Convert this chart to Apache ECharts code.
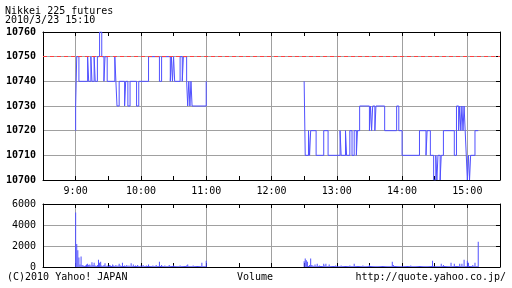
<!DOCTYPE html>
<html><head><meta charset="utf-8">
<script src="https://cdn.jsdelivr.net/npm/echarts@6/dist/echarts.min.js"></script>
<style>html,body{margin:0;padding:0;background:#fff}#c{width:512px;height:288px}</style>
</head><body><div id="c"></div>
<script>
// ---- data ----
const titleLines = ['Nikkei 225 futures', '2010/3/23 15:10'];
const footerLeft = '(C)2010 Yahoo! JAPAN';
const footerMid = 'Volume';
const footerRight = 'http://quote.yahoo.co.jp/';
const prevClose = 10750;
const priceTicks = [10700, 10710, 10720, 10730, 10740, 10750, 10760];
const volumeTicks = [0, 2000, 4000, 6000];

const amTimes = ['9:00','9:00','9:01','9:03','9:11','9:12','9:14','9:15','9:17','9:18','9:20','9:22','9:24','9:26','9:27','9:29','9:36','9:37','9:38','9:40','9:45','9:46','9:48','9:50','9:56','9:58','10:07','10:17','10:19','10:27','10:28','10:29','10:30','10:31','10:36','10:38','10:39','10:42','10:43','10:44','10:45','10:46','10:47','11:00'];
const amPrices = [10720,10730,10750,10740,10750,10740,10750,10740,10750,10740,10750,10760,10750,10740,10750,10740,10750,10740,10730,10740,10730,10740,10730,10740,10730,10740,10750,10740,10750,10740,10750,10740,10750,10740,10750,10740,10750,10740,10730,10740,10730,10740,10730,10740];

const pmTimes = ['12:30','12:31','12:34','12:35','12:36','12:41','12:48','12:52','13:03','13:04','13:08','13:09','13:12','13:14','13:16','13:18','13:19','13:21','13:30','13:31','13:32','13:33','13:35','13:36','13:44','13:55','13:57','14:00','14:16','14:22','14:23','14:26','14:29','14:31','14:32','14:33','14:35','14:36','14:38','14:48','14:50','14:52','14:53','14:54','14:55','14:56','14:57','14:58','14:59','15:00','15:01','15:02','15:03','15:07','15:10'];
const pmPrices = [10740,10710,10720,10710,10720,10710,10720,10710,10720,10710,10720,10710,10720,10710,10720,10710,10720,10730,10720,10730,10720,10730,10720,10730,10720,10730,10720,10710,10720,10710,10720,10710,10700,10710,10700,10710,10700,10710,10720,10710,10730,10720,10730,10720,10730,10720,10730,10720,10710,10700,10710,10700,10710,10720,10720];

// per-minute volume, morning 9:00-11:00
const amVolStart = '9:00';
const amVolumes = [
5200,2200,1600,900,250,1000,200,150,100,150,
250,300,200,250,150,450,200,400,150,100,
200,700,400,500,150,100,200,350,100,150,
100,200,150,100,250,150,100,200,100,150,
300,150,100,400,100,150,100,200,100,150,
100,350,100,250,100,150,100,200,100,100,
150,100,200,100,100,150,100,250,100,100,
100,150,100,100,200,100,100,500,100,200,
100,100,150,100,100,100,200,100,100,100,
150,100,100,100,100,100,150,100,100,100,
100,100,150,250,100,100,100,100,150,100,
100,100,100,100,100,100,400,100,100,100,
600];
// per-minute volume, afternoon 12:30-15:10
const pmVolStart = '12:30';
const pmVolumes = [
550,800,650,500,100,200,800,200,150,100,
250,100,300,100,150,100,100,100,300,150,
300,100,100,250,100,100,100,100,100,150,
100,100,100,100,150,100,100,100,100,100,
100,100,150,100,100,100,300,100,100,100,
100,100,100,100,150,100,100,100,100,100,
200,100,100,100,100,100,100,100,100,100,
100,100,100,100,100,100,100,100,100,100,
100,500,200,100,100,100,100,100,100,100,
100,100,100,100,100,100,100,100,150,100,
100,100,100,100,100,100,100,100,100,100,
100,100,100,100,100,100,100,100,600,100,
100,100,100,100,100,100,300,100,200,100,
100,100,100,100,100,400,100,100,300,100,
100,100,100,300,100,300,100,700,100,100,
600,400,100,100,100,200,100,400,100,100,
2400];

// ---- build ----
const hm = s => { const p = s.split(':').map(Number); return p[0] * 60 + p[1]; };
const pairs = (ts, vs) => ts.map((t, i) => [hm(t), vs[i]]);
const volPairs = (start, vs) => vs.map((v, i) => [hm(start) + i, v]);

const BLUE = '#5050ff';
const GRID = '#a0a0a0';
const FONT = 'DejaVu Sans Mono';
const xMin = hm('8:30'), xMax = hm('15:30');

function xAx(grid, pos, labels) {
  return {
    type: 'value', gridIndex: grid, position: pos, min: xMin, max: xMax, interval: 30,
    axisLine: { show: true, onZero: false, lineStyle: { color: '#000', width: 1 } },
    axisTick: { show: true, inside: true, length: 4, lineStyle: { color: '#000' } },
    axisLabel: labels ? { show: true, interval: 0, margin: 6, color: '#000', fontFamily: FONT, fontSize: 10,
      formatter: v => (v % 60 === 0 ? (v / 60) + ':00' : '') } : { show: false },
    splitLine: pos === 'bottom' ? { show: true, lineStyle: { color: ['rgba(0,0,0,0)', GRID], width: 1 } } : { show: false }
  };
}
function yAx(grid, pos, min, max, interval, bold) {
  const left = pos === 'left';
  return {
    type: 'value', gridIndex: grid, position: pos, min, max, interval,
    axisLine: { show: true, onZero: false, lineStyle: { color: '#000', width: 1 } },
    axisTick: { show: !left, inside: true, length: 4, lineStyle: { color: '#000' } },
    axisLabel: left ? { show: true, margin: 7, color: '#000', fontFamily: FONT, fontSize: 10,
      fontWeight: bold ? 'bold' : 'normal', formatter: v => String(v) } : { show: false },
    splitLine: left ? { show: true, lineStyle: { color: GRID, width: 1 } } : { show: false }
  };
}

const chart = echarts.init(document.getElementById('c'), null, { renderer: 'canvas' });
chart.setOption({
  animation: false,
  backgroundColor: '#fff',
  grid: [
    { left: 43, right: 12, top: 32, height: 148, containLabel: false, outerBoundsMode: 'none' },
    { left: 43, right: 12, top: 204, height: 63, containLabel: false, outerBoundsMode: 'none' }
  ],
  xAxis: [xAx(0, 'bottom', true), xAx(0, 'top', false), xAx(1, 'bottom', false), xAx(1, 'top', false)],
  yAxis: [
    yAx(0, 'left', priceTicks[0], priceTicks[priceTicks.length - 1], priceTicks[1] - priceTicks[0], true),
    yAx(0, 'right', priceTicks[0], priceTicks[priceTicks.length - 1], priceTicks[1] - priceTicks[0]),
    yAx(1, 'left', volumeTicks[0], volumeTicks[volumeTicks.length - 1], volumeTicks[1] - volumeTicks[0]),
    yAx(1, 'right', volumeTicks[0], volumeTicks[volumeTicks.length - 1], volumeTicks[1] - volumeTicks[0])
  ],
  series: [
    { type: 'line', xAxisIndex: 0, yAxisIndex: 0, step: 'end', showSymbol: false, symbol: 'none',
      data: pairs(amTimes, amPrices), lineStyle: { color: BLUE, width: 1 }, z: 3,
      markLine: { silent: true, symbol: 'none', label: { show: false },
        lineStyle: { color: '#ff4040', type: [4, 3], width: 1 }, data: [{ yAxis: prevClose }] } },
    { type: 'line', xAxisIndex: 0, yAxisIndex: 0, step: 'end', showSymbol: false, symbol: 'none',
      data: pairs(pmTimes, pmPrices), lineStyle: { color: BLUE, width: 1 }, z: 3 },
    { type: 'bar', xAxisIndex: 2, yAxisIndex: 2, barWidth: 1, itemStyle: { color: BLUE },
      data: volPairs(amVolStart, amVolumes).concat(volPairs(pmVolStart, pmVolumes)) }
  ],
  graphic: [
    { type: 'text', x: 5, y: 11, style: { text: titleLines[0], font: '10px ' + FONT, fill: '#000', textVerticalAlign: 'middle' } },
    { type: 'text', x: 5, y: 20, style: { text: titleLines[1], font: '10px ' + FONT, fill: '#000', textVerticalAlign: 'middle' } },
    { type: 'text', x: 7, y: 277, style: { text: footerLeft, font: '10px ' + FONT, fill: '#000', textVerticalAlign: 'middle' } },
    { type: 'text', x: 255, y: 277, style: { text: footerMid, font: '10px ' + FONT, fill: '#000', textAlign: 'center', textVerticalAlign: 'middle' } },
    { type: 'text', x: 506, y: 277, style: { text: footerRight, font: '10px ' + FONT, fill: '#000', textAlign: 'right', textVerticalAlign: 'middle' } }
  ]
});
</script></body></html>
